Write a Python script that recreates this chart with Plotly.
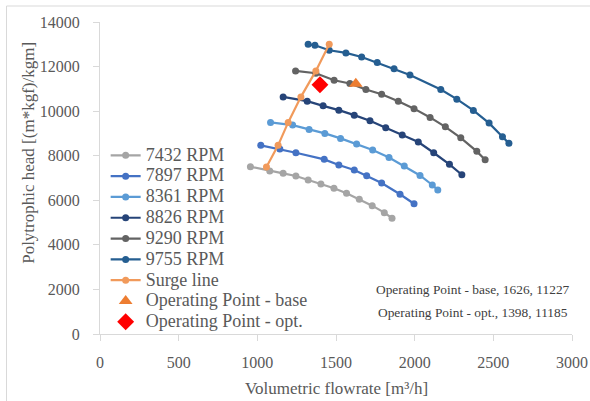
import plotly.graph_objects as go

# ---- data ----
rpm_labels = ["7432 RPM", "7897 RPM", "8361 RPM", "8826 RPM", "9290 RPM", "9755 RPM"]

q_7432 = [956, 1079, 1164, 1245, 1323, 1404, 1487, 1567, 1648, 1730, 1807, 1856]
h_7432 = [7506, 7313, 7210, 7089, 6910, 6731, 6538, 6314, 6046, 5759, 5445, 5195]

q_7897 = [1022, 1143, 1245, 1425, 1518, 1616, 1695, 1790, 1907, 1996]
h_7897 = [8464, 8298, 8133, 7837, 7582, 7358, 7103, 6776, 6270, 5844]

q_8361 = [1084, 1224, 1329, 1429, 1529, 1631, 1733, 1837, 1934, 2034, 2112, 2147]
h_8361 = [9494, 9373, 9180, 9001, 8777, 8522, 8253, 7918, 7537, 7112, 6686, 6462]

q_8826 = [1164, 1317, 1418, 1518, 1616, 1716, 1816, 1921, 2023, 2121, 2221, 2300]
h_8826 = [10640, 10448, 10237, 10045, 9821, 9566, 9252, 8925, 8612, 8133, 7613, 7147]

q_9290 = [1243, 1372, 1488, 1588, 1690, 1790, 1896, 1996, 2098, 2195, 2293, 2395, 2448]
h_9290 = [11805, 11702, 11388, 11240, 10972, 10761, 10448, 10112, 9718, 9297, 8804, 8195, 7819]

q_9755 = [1323, 1366, 1457, 1563, 1663, 1762, 1869, 1970, 2166, 2268, 2373, 2473, 2558, 2599]
h_9755 = [13000, 12955, 12732, 12611, 12432, 12181, 11903, 11626, 10972, 10537, 10031, 9463, 8849, 8554]

q_surge = [1058, 1132, 1196, 1277, 1372, 1457]
h_surge = [7492, 8464, 9494, 10640, 11805, 13000]

op_base_q = [1626]
op_base_h = [11227]
op_opt_q = [1398]
op_opt_h = [11185]

curve_q = [q_7432, q_7897, q_8361, q_8826, q_9290, q_9755]
curve_h = [h_7432, h_7897, h_8361, h_8826, h_9290, h_9755]
curve_colors = ["#A5A5A5", "#4472C4", "#5B9BD5", "#264478", "#636363", "#255E91"]

x_ticks = [0, 500, 1000, 1500, 2000, 2500, 3000]
y_ticks = [0, 2000, 4000, 6000, 8000, 10000, 12000, 14000]

FONT = "Liberation Serif, serif"
GREY_TXT = "#595959"
AXIS_COL = "#D9D9D9"


def leg(name):
    return '<span style="font-size:18px">' + name + '</span>'


fig = go.Figure()

for name, q, h, c in zip(rpm_labels, curve_q, curve_h, curve_colors):
    fig.add_trace(go.Scatter(
        x=q, y=h, name=leg(name), mode="lines+markers",
        line=dict(color=c, width=2.2),
        marker=dict(color=c, size=7),
    ))

fig.add_trace(go.Scatter(
    x=q_surge, y=h_surge, name=leg("Surge line"), mode="lines+markers",
    line=dict(color="#F19A5B", width=2.2),
    marker=dict(color="#F19A5B", size=7),
))

fig.add_trace(go.Scatter(
    x=op_base_q, y=op_base_h, name=leg("Operating Point - base"), mode="markers",
    marker=dict(color="#ED7D31", size=12, symbol="triangle-up"),
))

fig.add_trace(go.Scatter(
    x=op_opt_q, y=op_opt_h, name=leg("Operating Point - opt."), mode="markers",
    marker=dict(color="#FF0000", size=13, symbol="diamond"),
))

fig.update_layout(
    width=590, height=401,
    margin=dict(l=100, r=18, t=22, b=67, autoexpand=False),
    paper_bgcolor="white", plot_bgcolor="white",
    font=dict(family=FONT, color=GREY_TXT, size=16),
    showlegend=True,
    legend=dict(
        x=0.012, y=0.622, xanchor="left", yanchor="top",
        bgcolor="rgba(0,0,0,0)",
        font=dict(family=FONT, size=13.7, color=GREY_TXT),
        itemsizing="trace",
        tracegroupgap=0,
    ),
    xaxis=dict(
        range=[0, 3000], tickvals=x_ticks, ticktext=[str(v) for v in x_ticks],
        showgrid=False, zeroline=False, automargin=False,
        showline=True, linecolor=AXIS_COL, linewidth=1,
        ticks="outside", ticklen=6, tickcolor=AXIS_COL,
        ticklabelstandoff=8,
        tickfont=dict(family=FONT, size=16, color=GREY_TXT),
    ),
    yaxis=dict(
        range=[0, 14000], tickvals=y_ticks, ticktext=[str(v) for v in y_ticks],
        showgrid=False, zeroline=False, automargin=False,
        showline=True, linecolor=AXIS_COL, linewidth=1,
        ticks="outside", ticklen=6, tickcolor=AXIS_COL,
        ticklabelstandoff=10,
        tickfont=dict(family=FONT, size=16, color=GREY_TXT),
    ),
    annotations=[
        dict(text="Volumetric flowrate [m³/h]", xref="paper", yref="paper",
             x=0.5, y=-0.175, xanchor="center", yanchor="middle", showarrow=False,
             font=dict(family=FONT, size=17, color=GREY_TXT)),
        dict(text="Polytrophic head [(m*kgf)/kgm]", xref="paper", yref="paper",
             x=-0.153, y=0.58, xanchor="center", yanchor="middle", showarrow=False,
             textangle=-90, font=dict(family=FONT, size=17, color=GREY_TXT)),
        dict(text="Operating Point - base, 1626, 11227", xref="paper", yref="paper",
             x=0.79, y=0.142, xanchor="center", yanchor="middle", showarrow=False,
             font=dict(family=FONT, size=13.4, color="#404040")),
        dict(text="Operating Point - opt., 1398, 11185", xref="paper", yref="paper",
             x=0.79, y=0.069, xanchor="center", yanchor="middle", showarrow=False,
             font=dict(family=FONT, size=13.4, color="#404040")),
    ],
    shapes=[
        dict(type="rect", xref="paper", yref="paper",
             x0=(6.5 - 100) / 472, x1=(620 - 100) / 472,
             y0=(334 - 430) / 312, y1=(334 - 6) / 312,
             line=dict(color="#D9D9D9", width=1), fillcolor="rgba(0,0,0,0)"),
    ],
)

fig.write_html("out.html")
